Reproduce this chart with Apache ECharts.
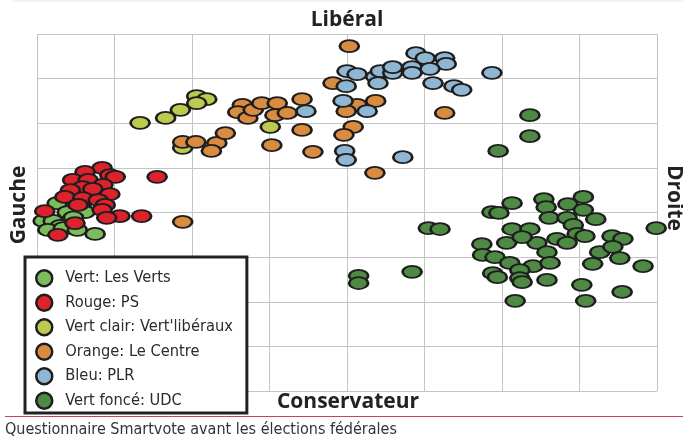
<!DOCTYPE html>
<html><head><meta charset="utf-8">
<script src="https://cdn.jsdelivr.net/npm/echarts@6/dist/echarts.min.js"></script>
<style>html,body{margin:0;padding:0;background:#fff}#c{width:683px;height:441px}</style>
</head><body><div id="c"></div>
<script>
// Axis extents (8 x 8 grid cells)
const xTicks = [0, 1, 2, 3, 4, 5, 6, 7, 8];
const yTicks = [0, 1, 2, 3, 4, 5, 6, 7, 8];

const seriesNames = ["Vert: Les Verts", "Rouge: PS", "Vert clair: Vert'libéraux", "Orange: Le Centre", "Bleu: PLR", "Vert foncé: UDC"];
const seriesColors = ["#7cbd5b", "#de222c", "#bccb4f", "#d98b3f", "#8fb7d3", "#4e8a43"];

const verts = [[0.26,4.21],[0.39,4.01],[0.58,4.10],[0.62,4.01],[0.08,3.81],[0.21,3.81],[0.30,3.70],[0.47,3.89],[0.14,3.61],[0.34,3.65],[0.52,3.61],[0.75,3.52]];
const ps = [[0.84,5.00],[0.62,4.91],[0.94,4.84],[1.01,4.80],[1.55,4.80],[0.46,4.73],[0.66,4.73],[0.85,4.62],[0.59,4.57],[0.43,4.50],[0.72,4.53],[0.94,4.41],[0.36,4.35],[0.59,4.32],[0.79,4.28],[0.88,4.17],[0.53,4.17],[0.84,4.06],[0.10,4.03],[1.07,3.92],[1.35,3.92],[0.90,3.88],[0.49,3.76],[0.27,3.50]];
const vertLib = [[1.33,6.01],[1.66,6.12],[1.85,6.30],[2.06,6.61],[2.19,6.54],[2.06,6.45],[3.01,5.92],[1.88,5.45]];
const centre = [[2.65,6.41],[2.59,6.25],[2.72,6.12],[2.79,6.30],[2.90,6.45],[3.10,6.45],[3.07,6.18],[3.23,6.23],[3.42,6.54],[3.42,5.85],[3.03,5.51],[3.56,5.36],[1.88,5.58],[2.05,5.58],[2.32,5.56],[2.43,5.78],[2.25,5.38],[1.88,3.79],[4.03,7.73],[3.82,6.90],[4.37,6.50],[4.13,6.41],[3.99,6.27],[5.26,6.23],[4.08,5.92],[3.96,5.74],[4.36,4.89]];
const plr = [[3.47,6.27],[4.89,7.57],[5.01,7.46],[5.26,7.46],[5.28,7.33],[4.00,7.17],[4.13,7.10],[4.37,7.04],[4.43,7.17],[4.59,7.13],[4.59,7.26],[4.84,7.26],[4.84,7.13],[5.07,7.22],[4.40,6.90],[3.99,6.83],[5.11,6.90],[5.38,6.83],[5.48,6.75],[5.87,7.13],[3.95,6.50],[4.26,6.27],[3.97,5.38],[3.99,5.18],[4.72,5.24]];
const udc = [[6.36,6.18],[6.36,5.71],[5.95,5.38],[7.05,4.35],[6.54,4.30],[6.13,4.21],[6.85,4.19],[5.87,4.01],[5.96,3.99],[6.57,4.12],[7.05,4.06],[6.61,3.88],[6.84,3.88],[7.21,3.85],[5.05,3.65],[5.20,3.63],[6.13,3.63],[6.36,3.63],[6.92,3.72],[6.97,3.52],[7.07,3.47],[7.42,3.47],[7.56,3.41],[7.99,3.65],[6.71,3.41],[6.84,3.32],[6.45,3.32],[6.06,3.32],[5.74,3.29],[6.58,3.11],[6.26,3.45],[7.26,3.11],[7.43,3.23],[7.52,2.98],[5.75,3.05],[5.91,3.00],[6.10,2.87],[6.40,2.80],[6.62,2.87],[6.23,2.71],[5.88,2.64],[5.94,2.55],[6.23,2.53],[6.26,2.44],[6.58,2.49],[7.17,2.85],[7.82,2.80],[4.84,2.67],[7.03,2.38],[7.55,2.22],[6.17,2.02],[7.08,2.02],[4.15,2.58],[4.15,2.42]];

const allData = [verts, ps, vertLib, centre, plr, udc];

const chart = echarts.init(document.getElementById('c'), null, {renderer: 'canvas'});
const narrow = "'Liberation Sans Narrow', 'DejaVu Sans Condensed', 'Roboto', sans-serif";
const bold = "'Open Sans', 'Noto Sans', sans-serif";

const option = {
  animation: false,
  backgroundColor: '#fff',
  grid: {left: 37, right: 26, top: 34, bottom: 50},
  xAxis: {
    type: 'value', min: xTicks[0], max: xTicks[xTicks.length - 1], interval: 1,
    axisLine: {show: false}, axisTick: {show: false}, axisLabel: {show: false},
    splitLine: {show: true, lineStyle: {color: '#c4c4c4', width: 1}}
  },
  yAxis: {
    type: 'value', min: yTicks[0], max: yTicks[yTicks.length - 1], interval: 1,
    axisLine: {show: false}, axisTick: {show: false}, axisLabel: {show: false},
    splitLine: {show: true, lineStyle: {color: '#c4c4c4', width: 1}}
  },
  legend: {
    orient: 'vertical', left: 25, top: 257,
    data: seriesNames, icon: 'circle', itemWidth: 16, itemHeight: 16, itemGap: 6,
    padding: [12, 14, 3, 10],
    backgroundColor: '#fff', borderColor: '#222', borderWidth: 3,
    itemStyle: {borderColor: '#1e1e1e', borderWidth: 2.5},
    textStyle: {fontFamily: narrow, fontSize: 16.3, color: '#2b2b2b', lineHeight: 18, padding: [0, 0, 0, 8]},
    z: 10
  },
  graphic: [
    {type: 'line', shape: {x1: 12, y1: 1, x2: 683, y2: 1}, style: {stroke: '#e8e8e8', lineWidth: 1}},
    {type: 'text', x: 347, y: 20, style: {text: 'Libéral', font: "bold 21px " + bold, fill: '#222', align: 'center', verticalAlign: 'middle'}},
    {type: 'text', x: 348, y: 402, style: {text: 'Conservateur', font: "bold 21px " + bold, fill: '#222', align: 'center', verticalAlign: 'middle'}},
    {type: 'text', x: 19, y: 205, rotation: Math.PI / 2, style: {text: 'Gauche', font: "bold 21px " + bold, fill: '#222', align: 'center', verticalAlign: 'middle'}},
    {type: 'text', x: 674, y: 198, rotation: -Math.PI / 2, style: {text: 'Droite', font: "bold 21px " + bold, fill: '#222', align: 'center', verticalAlign: 'middle'}},
    {type: 'line', shape: {x1: 5, y1: 416.5, x2: 683, y2: 416.5}, style: {stroke: '#bf4a55', lineWidth: 1.2}},
    {type: 'text', x: 5, y: 430, style: {text: 'Questionnaire Smartvote avant les élections fédérales', font: "16px " + narrow, fill: '#333', align: 'left', verticalAlign: 'middle'}}
  ],
  series: seriesNames.map((name, i) => ({
    name: name,
    type: 'scatter',
    data: allData[i],
    symbol: 'circle',
    symbolSize: [19, 12],
    itemStyle: {color: seriesColors[i], borderColor: '#1e1e1e', borderWidth: 2.2, opacity: 1},
    emphasis: {disabled: true},
    z: 2
  }))
};
chart.setOption(option);
</script>
</body></html>
